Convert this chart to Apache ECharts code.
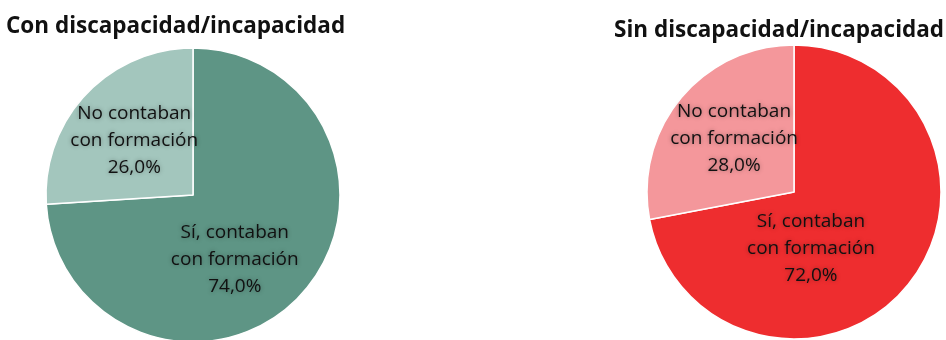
<!DOCTYPE html>
<html>
<head>
<meta charset="utf-8">
<script src="https://cdn.jsdelivr.net/npm/echarts@6/dist/echarts.min.js"></script>
<style>
  html, body { margin: 0; padding: 0; background: #fff; }
  #chart { width: 946px; height: 340px; }
</style>
</head>
<body>
<div id="chart"></div>
<script>
// Training status of workers, with and without disability
const groupTitles = ['Con discapacidad/incapacidad', 'Sin discapacidad/incapacidad'];
const categories = ['Sí, contaban\ncon formación', 'No contaban\ncon formación'];
const withDisability = [74.0, 26.0];
const withoutDisability = [72.0, 28.0];

const FONT = 'Open Sans';
const greens = ['#5E9585', '#A3C6BD'];
const reds = ['#EE2D2F', '#F4979B'];

function fmt(p) {
  return p.name + '\n' + p.value.toFixed(1).replace('.', ',') + '%';
}

function pieSeries(values, colors, center, shifts) {
  return {
    type: 'pie',
    center: center,
    radius: 147,
    startAngle: 90,
    clockwise: true,
    silent: true,
    animation: false,
    data: categories.map((c, i) => ({ name: c, value: values[i], itemStyle: { color: colors[i] } })),
    itemStyle: { borderColor: '#ffffff', borderWidth: 1.5 },
    label: {
      position: 'inside',
      formatter: fmt,
      color: '#111',
      fontFamily: FONT,
      fontSize: 19,
      lineHeight: 27,
      align: 'center',
      textShadowColor: 'rgba(0,0,0,0.35)',
      textShadowBlur: 4
    },
    labelLine: { show: false },
    labelLayout: function (p) {
      return { dx: shifts[p.dataIndex][0], dy: shifts[p.dataIndex][1] };
    }
  };
}

const titleStyle = { fontFamily: FONT, fontSize: 22.5, fontWeight: 'bold', color: '#111' };

const chart = echarts.init(document.getElementById('chart'), null, { renderer: 'canvas' });
chart.setOption({
  backgroundColor: '#ffffff',
  title: [
    { text: groupTitles[0], left: 6, top: 15, padding: 0, textStyle: titleStyle },
    { text: groupTitles[1], left: 614, top: 19, padding: 0, textStyle: titleStyle }
  ],
  series: [
    pieSeries(withDisability, greens, [193, 195], [[-14, 12], [-3, -2]]),
    pieSeries(withoutDisability, reds, [794, 192], [[-42, 8], [-1, -5]])
  ]
});
</script>
</body>
</html>
